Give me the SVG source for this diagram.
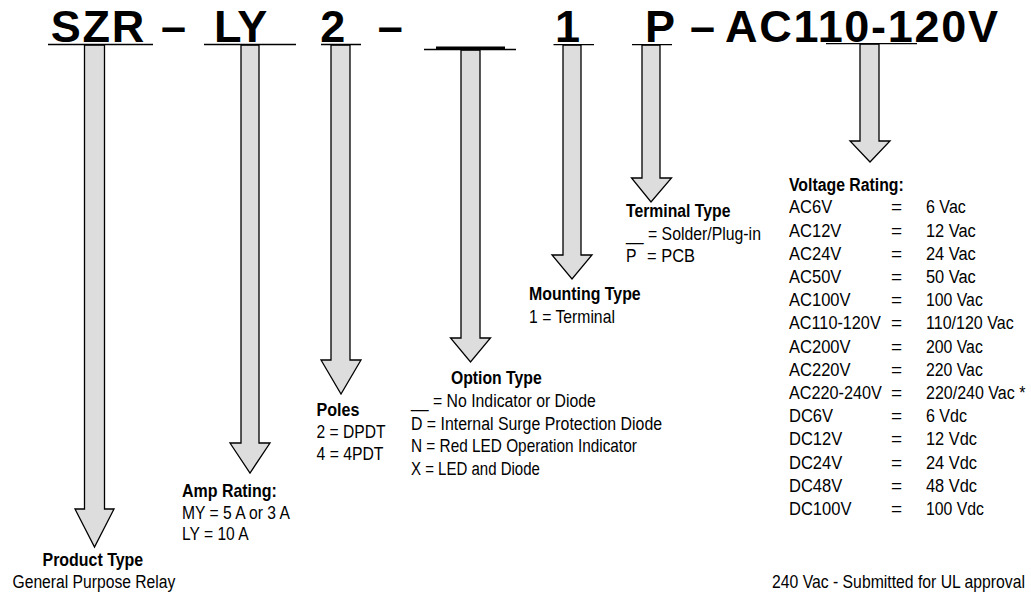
<svg xmlns="http://www.w3.org/2000/svg" width="1031" height="596" viewBox="0 0 1031 596">
<style>
.t{font-family:"Liberation Sans",Arial,Helvetica,sans-serif;font-size:19px;fill:#000}
.b{font-weight:bold}
.hd{font-family:"Liberation Sans",Arial,Helvetica,sans-serif;font-size:45px;font-weight:bold;fill:#000}
.arr{fill:#dddddd;stroke:#000;stroke-width:1.3;stroke-linejoin:miter}
.ul{stroke:#000;stroke-width:1.3;fill:none}
</style>
<rect x="0" y="0" width="1031" height="596" fill="#fff"/>
<g id="connectors">
<polygon class="arr" points="84.5,45 84.5,509 75,509 94.5,547 114,509 104.5,509 104.5,45"/>
<polygon class="arr" points="241,45 241,443 230,443 250,473 270,443 259,443 259,45"/>
<polygon class="arr" points="331,45 331,360 321,360 341,394 361,360 350,360 350,45"/>
<polygon class="arr" points="461,50 461,338 450.5,338 470.5,362 490.5,338 480,338 480,50"/>
<polygon class="arr" points="563,45 563,255 552,255 572,279 592,255 581,255 581,45"/>
<polygon class="arr" points="642,45 642,178 631.5,178 651,202 671.5,178 660,178 660,45"/>
<polygon class="arr" points="860,44 860,141 850,141 870,162 890,141 879,141 879,44"/>
</g>
<g id="code">
<line class="ul" x1="48" y1="44.5" x2="153" y2="44.5"/>
<line class="ul" x1="204" y1="44.5" x2="296" y2="44.5"/>
<line class="ul" x1="321" y1="44.5" x2="361" y2="44.5"/>
<line class="ul" x1="424" y1="49.5" x2="516" y2="49.5"/>
<rect x="436" y="46.5" width="69" height="3" fill="#000"/>
<line class="ul" x1="553.5" y1="44.7" x2="594" y2="44.7"/>
<line class="ul" x1="632" y1="44.7" x2="672" y2="44.7"/>
<line class="ul" x1="826" y1="43.7" x2="917" y2="43.7"/>
<text class="hd" x="50.8" y="42" letter-spacing="1.7">SZR</text>
<text class="hd" x="161" y="42">–</text>
<text class="hd" x="214" y="42">LY</text>
<text class="hd" x="320.3" y="42">2</text>
<text class="hd" x="377.7" y="42">–</text>
<text class="hd" x="555" y="42">1</text>
<text class="hd" x="645" y="42">P</text>
<text class="hd" x="690" y="42">–</text>
<text class="hd" x="725" y="42" letter-spacing="1.7">AC110-120V</text>
</g>
<g id="product-type">
<text class="t b" transform="translate(42.5 566) scale(0.84 1)">Product Type</text>
<text class="t" transform="translate(12.5 588) scale(0.825 1)">General Purpose Relay</text>
</g>
<g id="amp-rating">
<text class="t b" transform="translate(182 497) scale(0.841 1)">Amp Rating:</text>
<text class="t" transform="translate(182 518.5) scale(0.824 1)">MY = 5 A or 3 A</text>
<text class="t" transform="translate(182 540) scale(0.821 1)">LY = 10 A</text>
</g>
<g id="poles">
<text class="t b" transform="translate(316.5 416) scale(0.848 1)">Poles</text>
<text class="t" transform="translate(316.5 438) scale(0.822 1)">2 = DPDT</text>
<text class="t" transform="translate(316.5 460) scale(0.829 1)">4 = 4PDT</text>
</g>
<g id="option-type">
<text class="t b" transform="translate(451 383.5) scale(0.83 1)">Option Type</text>
<text class="t" transform="translate(411 406.5) scale(0.832 1)">__ = No Indicator or Diode</text>
<text class="t" transform="translate(411 429.5) scale(0.836 1)">D = Internal Surge Protection Diode</text>
<text class="t" transform="translate(411 452) scale(0.809 1)">N = Red LED Operation Indicator</text>
<text class="t" transform="translate(411 475) scale(0.79 1)">X = LED and Diode</text>
</g>
<g id="mounting-type">
<text class="t b" transform="translate(529 300) scale(0.836 1)">Mounting Type</text>
<text class="t" transform="translate(529 323) scale(0.829 1)">1 = Terminal</text>
</g>
<g id="terminal-type">
<text class="t b" transform="translate(626 216.5) scale(0.83 1)">Terminal Type</text>
<text class="t" transform="translate(626 240) scale(0.833 1)">__ = Solder/Plug-in</text>
<text class="t" transform="translate(626 262) scale(0.83 1)">P</text>
<text class="t" transform="translate(647 262) scale(0.866 1)">= PCB</text>
</g>
<g id="voltage-rating">
<text class="t b" transform="translate(789 191) scale(0.833 1)">Voltage Rating:</text>
<g class="t">
<text transform="translate(789 213.3) scale(0.87 1)">AC6V</text>
<text transform="translate(789 236.5) scale(0.87 1)">AC12V</text>
<text transform="translate(789 259.7) scale(0.87 1)">AC24V</text>
<text transform="translate(789 282.9) scale(0.87 1)">AC50V</text>
<text transform="translate(789 306.1) scale(0.87 1)">AC100V</text>
<text transform="translate(789 329.3) scale(0.855 1)">AC110-120V</text>
<text transform="translate(789 352.5) scale(0.87 1)">AC200V</text>
<text transform="translate(789 375.7) scale(0.87 1)">AC220V</text>
<text transform="translate(789 398.9) scale(0.855 1)">AC220-240V</text>
<text transform="translate(789 422.1) scale(0.87 1)">DC6V</text>
<text transform="translate(789 445.3) scale(0.87 1)">DC12V</text>
<text transform="translate(789 468.5) scale(0.87 1)">DC24V</text>
<text transform="translate(789 491.7) scale(0.87 1)">DC48V</text>
<text transform="translate(789 514.9) scale(0.87 1)">DC100V</text>
<text x="891" y="213.3">=</text>
<text x="891" y="236.5">=</text>
<text x="891" y="259.7">=</text>
<text x="891" y="282.9">=</text>
<text x="891" y="306.1">=</text>
<text x="891" y="329.3">=</text>
<text x="891" y="352.5">=</text>
<text x="891" y="375.7">=</text>
<text x="891" y="398.9">=</text>
<text x="891" y="422.1">=</text>
<text x="891" y="445.3">=</text>
<text x="891" y="468.5">=</text>
<text x="891" y="491.7">=</text>
<text x="891" y="514.9">=</text>
<text transform="translate(926 213.3) scale(0.844 1)">6 Vac</text>
<text transform="translate(926 236.5) scale(0.863 1)">12 Vac</text>
<text transform="translate(926 259.7) scale(0.863 1)">24 Vac</text>
<text transform="translate(926 282.9) scale(0.863 1)">50 Vac</text>
<text transform="translate(926 306.1) scale(0.832 1)">100 Vac</text>
<text transform="translate(926 329.3) scale(0.844 1)">110/120 Vac</text>
<text transform="translate(926 352.5) scale(0.832 1)">200 Vac</text>
<text transform="translate(926 375.7) scale(0.832 1)">220 Vac</text>
<text transform="translate(926 398.9) scale(0.843 1)">220/240 Vac *</text>
<text transform="translate(926 422.1) scale(0.844 1)">6 Vdc</text>
<text transform="translate(926 445.3) scale(0.863 1)">12 Vdc</text>
<text transform="translate(926 468.5) scale(0.863 1)">24 Vdc</text>
<text transform="translate(926 491.7) scale(0.863 1)">48 Vdc</text>
<text transform="translate(926 514.9) scale(0.832 1)">100 Vdc</text>
</g>
</g>
<g id="footnote">
<text class="t" transform="translate(772 588) scale(0.83 1)">240 Vac - Submitted for UL approval</text>
</g>
</svg>
